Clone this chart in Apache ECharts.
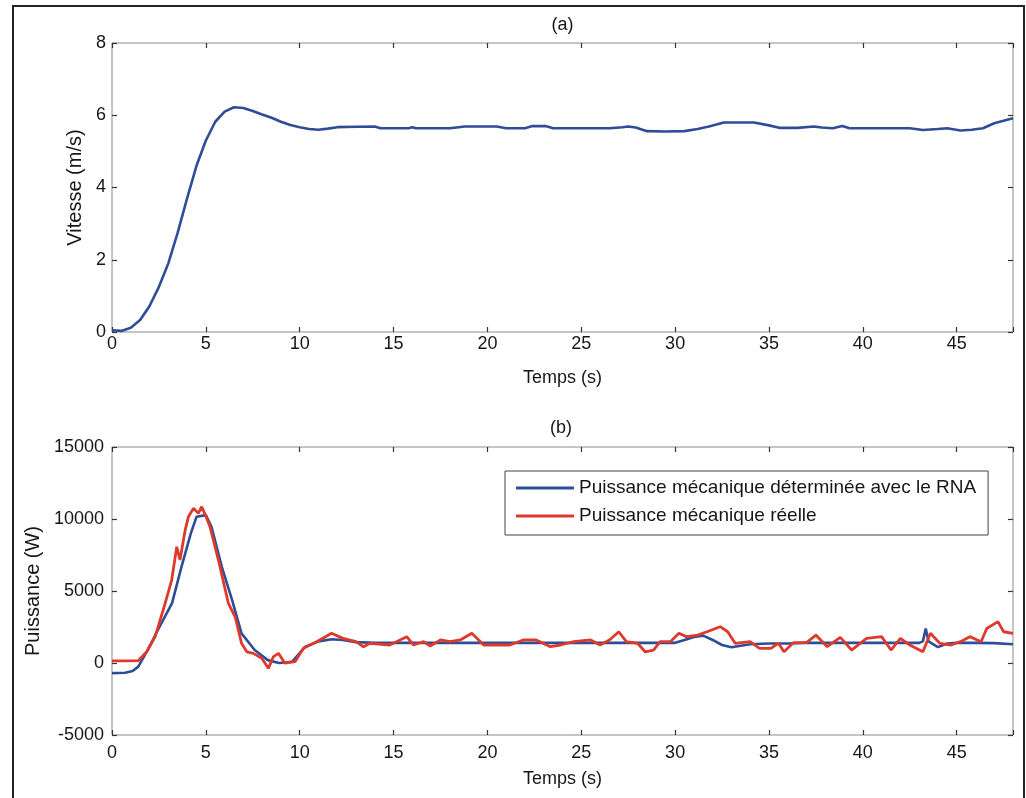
<!DOCTYPE html>
<html><head><meta charset="utf-8">
<script src="https://cdn.jsdelivr.net/npm/echarts@6/dist/echarts.min.js"></script>
<style>html,body{margin:0;padding:0;background:#fff}#c{width:1026px;height:798px}</style>
</head><body><div id="c"></div>
<script>
// (a) wind speed
const speedTime = [0,0.5,1,1.5,2,2.5,3,3.5,4,4.5,5,5.5,6,6.5,7,7.5,8,8.5,9,9.5,10,10.5,11,11.5,12,13,14,14.3,15,15.8,16,16.2,17,18,18.8,19.5,20.5,21,22,22.4,23.1,23.5,24.5,25.5,26.5,27.2,27.5,27.9,28.5,29.5,30.5,31.2,31.8,32.6,33.5,34.2,35,35.6,36.5,37.4,37.8,38.4,38.9,39.3,40.5,41.5,42.5,43.2,44,44.5,45.2,45.8,46.4,47,47.5,48];
const speedValues = [0.05,0.03,0.12,0.33,0.72,1.25,1.9,2.75,3.7,4.6,5.3,5.82,6.1,6.22,6.2,6.12,6.02,5.93,5.82,5.73,5.67,5.62,5.6,5.63,5.67,5.68,5.69,5.64,5.64,5.64,5.67,5.64,5.64,5.64,5.69,5.69,5.69,5.64,5.64,5.7,5.7,5.64,5.64,5.64,5.64,5.67,5.69,5.66,5.56,5.55,5.56,5.62,5.69,5.8,5.8,5.8,5.72,5.65,5.65,5.69,5.66,5.64,5.7,5.64,5.64,5.64,5.64,5.59,5.62,5.64,5.58,5.6,5.64,5.78,5.85,5.92];
// (b) mechanical power, ANN estimate
const rnaTime = [0,0.7,1.1,1.4,1.9,2.5,3.2,3.7,4.2,4.5,5,5.3,5.85,6.4,6.9,7.6,8.3,8.9,9.6,10.3,11,11.7,12.3,13,14,15,16,17,18,19,20,21,22,23,24,25,26,27,28,29,30,30.5,31,31.5,32,32.5,33,33.5,34,35,36,37,38,39,40,41,42,43,43.2,43.35,43.5,44,44.5,45,46,47,48];
const rnaPower = [-700,-680,-550,-250,900,2430,4160,6680,9000,10150,10270,9460,6680,4370,2060,900,200,0,90,1130,1500,1650,1600,1450,1400,1400,1400,1400,1400,1400,1400,1400,1400,1400,1400,1400,1400,1400,1400,1400,1400,1600,1800,1900,1600,1250,1100,1200,1300,1350,1350,1400,1400,1400,1400,1400,1400,1400,1500,2400,1500,1100,1350,1400,1400,1380,1300];
// (b) mechanical power, real
const realTime = [0,0.7,1.4,1.85,2.3,2.83,3.18,3.45,3.62,3.9,4.07,4.34,4.6,4.78,5.05,5.22,5.67,6.2,6.56,6.9,7.18,7.53,7.98,8.33,8.6,8.87,9.2,9.75,10.2,10.9,11.7,12.3,13.0,13.4,13.75,14.8,15.7,16.06,16.6,16.95,17.5,18.0,18.55,19.17,19.8,20.5,21.2,21.9,22.6,23.35,23.9,24.6,25.5,26.0,26.5,27.0,27.4,28.0,28.4,28.85,29.2,29.75,30.2,30.6,31.2,31.7,32.4,32.8,33.2,34.0,34.5,35.1,35.5,35.8,36.3,37.0,37.5,38.1,38.8,39.4,40.2,41.0,41.5,42.0,42.5,43.2,43.6,44.1,44.7,45.2,45.7,46.3,46.6,47.2,47.5,48];
const realPower = [150,150,160,780,1830,4140,5760,8070,7150,9230,10150,10740,10390,10850,10040,9460,7150,4140,3210,1370,780,670,330,-370,440,670,0,90,1020,1480,2060,1710,1480,1130,1370,1250,1830,1250,1480,1180,1600,1480,1600,2060,1250,1250,1250,1600,1600,1130,1250,1480,1600,1250,1600,2170,1480,1370,780,900,1480,1480,2060,1830,1940,2170,2520,2170,1370,1480,1020,1020,1370,780,1410,1410,1940,1130,1780,900,1710,1830,900,1710,1250,780,2060,1370,1250,1480,1830,1480,2400,2870,2170,2060];

const seriesNames = ['Puissance mécanique déterminée avec le RNA', 'Puissance mécanique réelle'];
const xName = 'Temps (s)';
const speedName = 'Vitesse (m/s)';
const powerName = 'Puissance (W)';

const pairs = (t, v) => t.map((x, i) => [x, v[i]]);
const FONT = '"Liberation Sans", Arial, sans-serif';
const TXT = '#161616';
const BLUE = '#2f4d97';
const RED = '#dd3a2c';

const tickStyle = {inside: true, length: 5, lineStyle: {color: '#333', width: 1.2}};
function xAx(grid, top, gap, margin) {
  const a = {
    gridIndex: grid, type: 'value', min: 0, max: 48, interval: 5,
    position: top ? 'top' : 'bottom',
    axisLine: {show: false, onZero: false}, splitLine: {show: false}, axisTick: tickStyle,
    axisLabel: {show: !top, fontSize: 18, fontFamily: FONT, color: TXT, margin: margin,
      formatter: v => (v % 5 === 0 ? String(v) : '')}
  };
  if (!top) Object.assign(a, {name: xName, nameLocation: 'middle', nameGap: gap,
    nameTextStyle: {fontSize: 18, fontFamily: FONT, color: TXT}});
  return a;
}
function yAx(grid, right, min, max, interval, name, gap, margin) {
  const a = {
    gridIndex: grid, type: 'value', min: min, max: max, interval: interval,
    position: right ? 'right' : 'left',
    axisLine: {show: false, onZero: false}, splitLine: {show: false}, axisTick: tickStyle,
    axisLabel: {show: !right, fontSize: 18, fontFamily: FONT, color: TXT, margin: margin,
      formatter: v => String(v)}
  };
  if (!right) Object.assign(a, {name: name, nameLocation: 'middle', nameGap: gap,
    nameTextStyle: {fontSize: 20, fontFamily: FONT, color: TXT}});
  return a;
}

const chart = echarts.init(document.getElementById('c'));
chart.setOption({
  animation: false,
  backgroundColor: '#fff',
  grid: [
    {left: 112, top: 43, width: 901, height: 289, show: true, borderColor: '#8c8c8c', borderWidth: 1, backgroundColor: 'transparent'},
    {left: 112, top: 447, width: 901, height: 288, show: true, borderColor: '#8c8c8c', borderWidth: 1, backgroundColor: 'transparent'}
  ],
  xAxis: [xAx(0, false, 37, 3), xAx(0, true), xAx(1, false, 35, 9), xAx(1, true)],
  yAxis: [
    yAx(0, false, 0, 8, 2, speedName, 26, 6), yAx(0, true, 0, 8, 2),
    yAx(1, false, -5000, 15000, 5000, powerName, 60, 8), yAx(1, true, -5000, 15000, 5000)
  ],
  legend: {
    data: seriesNames, orient: 'vertical', left: 505, top: 471,
    borderColor: '#444', borderWidth: 1, padding: [6, 12, 8, 11],
    icon: 'rect', itemGap: 6, itemWidth: 58, itemHeight: 3,
    textStyle: {fontSize: 19, fontFamily: FONT, color: TXT, lineHeight: 22}
  },
  graphic: [
    {type: 'rect', shape: {x: 13, y: 6, width: 1011, height: 830}, style: {fill: 'none', stroke: '#222', lineWidth: 2}, silent: true},
    {type: 'text', x: 562.5, y: 16, style: {text: '(a)', fontSize: 18, fontFamily: FONT, fill: TXT, textAlign: 'center'}},
    {type: 'text', x: 561, y: 419, style: {text: '(b)', fontSize: 18, fontFamily: FONT, fill: TXT, textAlign: 'center'}}
  ],
  series: [
    {type: 'line', name: speedName, xAxisIndex: 0, yAxisIndex: 0, data: pairs(speedTime, speedValues),
      showSymbol: false, symbol: 'none', lineStyle: {color: BLUE, width: 2.6}, itemStyle: {color: BLUE}},
    {type: 'line', name: seriesNames[0], xAxisIndex: 2, yAxisIndex: 2, data: pairs(rnaTime, rnaPower),
      showSymbol: false, symbol: 'none', lineStyle: {color: BLUE, width: 2.6}, itemStyle: {color: BLUE}},
    {type: 'line', name: seriesNames[1], xAxisIndex: 2, yAxisIndex: 2, data: pairs(realTime, realPower),
      showSymbol: false, symbol: 'none', lineStyle: {color: RED, width: 2.8}, itemStyle: {color: RED}}
  ]
});
</script></body></html>
